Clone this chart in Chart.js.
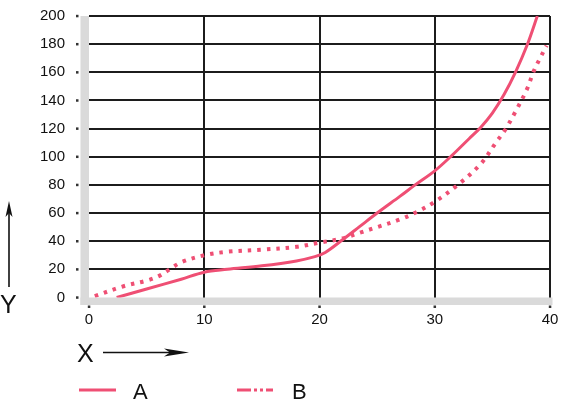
<!DOCTYPE html>
<html>
<head>
<meta charset="utf-8">
<script src="https://cdn.jsdelivr.net/npm/chart.js@4.4.1/dist/chart.umd.min.js"></script>
<style>
  html, body { margin: 0; padding: 0; background: #fff; }
  #wrap { width: 570px; height: 414px; position: relative; }
</style>
</head>
<body>
<div id="wrap"><canvas id="curveChart"></canvas></div>
<script>
// Dữ liệu
const xTicks = [0, 10, 20, 30, 40];
const yTicks = [0, 20, 40, 60, 80, 100, 120, 140, 160, 180, 200];

const xA = [2.4, 5, 8, 10, 12, 15, 18, 19.6, 20.5, 22, 23.5, 25, 27, 28.3, 30, 31.5, 33, 34, 35, 36, 37, 38, 38.9];
const yA = [0, 6, 13, 18, 20, 22.5, 26, 29, 32, 41, 50.5, 60, 72, 80, 90, 101, 113, 121, 131, 144, 160, 179, 200];

const xB = [0.5, 3, 5, 6, 7, 8, 10, 12, 15, 18, 20, 22, 23.5, 25, 27, 28.5, 30, 32, 34, 35.3, 36.1, 37, 38, 38.6, 39.2, 39.7];
const yB = [1, 8, 12, 15, 20, 25, 30, 32.5, 34, 36, 39, 42, 46, 50, 55.5, 61, 68, 80, 95, 110, 119, 132, 148, 161, 171, 179];

const seriesNames = ['A', 'B'];
const pink = '#ef4f74';

function toPoints(xs, ys) {
    return xs.map((x, i) => ({ x: x, y: ys[i] }));
}

// Vẽ dải xám, chấm tick, nhãn trục và chú thích
const decorPlugin = {
    id: 'decor',
    beforeDatasetsDraw(chart) {
        const ctx = chart.ctx;
        const a = chart.chartArea;
        const xs = chart.scales.x;
        const ys = chart.scales.y;
        ctx.save();
        ctx.fillStyle = '#dadada';
        ctx.fillRect(a.left - 8.5, a.top, 8.5, a.bottom - a.top + 7.5);
        ctx.fillRect(a.left - 8.5, a.bottom, a.right - a.left + 11, 7.5);
        ctx.fillStyle = '#333';
        yTicks.forEach(v => {
            const py = ys.getPixelForValue(v);
            ctx.fillRect(a.left - 13, py - 1.2, 2.5, 2.5);
        });
        xTicks.forEach(v => {
            const px = xs.getPixelForValue(v);
            ctx.fillRect(px - 1.2, a.bottom + 8, 2.5, 2.5);
        });
        ctx.restore();
    },
    afterDraw(chart) {
        const ctx = chart.ctx;
        ctx.save();
        ctx.fillStyle = '#111';
        ctx.strokeStyle = '#111';
        ctx.textBaseline = 'alphabetic';

        // Nhãn X và mũi tên
        ctx.font = '25px "Liberation Sans", Arial, sans-serif';
        ctx.fillText('X', 77, 362);
        ctx.lineWidth = 1.6;
        ctx.beginPath();
        ctx.moveTo(103, 352.5);
        ctx.lineTo(178, 352.5);
        ctx.stroke();
        ctx.beginPath();
        ctx.moveTo(189, 352.5);
        ctx.lineTo(164, 348.5);
        ctx.lineTo(170, 352.5);
        ctx.lineTo(164, 356.5);
        ctx.closePath();
        ctx.fill();

        // Nhãn Y và mũi tên
        ctx.fillText('Y', 0, 313);
        ctx.beginPath();
        ctx.moveTo(9, 287);
        ctx.lineTo(9, 212);
        ctx.stroke();
        ctx.beginPath();
        ctx.moveTo(9, 201);
        ctx.lineTo(5.5, 217);
        ctx.lineTo(9, 213);
        ctx.lineTo(12.5, 217);
        ctx.closePath();
        ctx.fill();

        // Chú thích
        ctx.font = '22px "Liberation Sans", Arial, sans-serif';
        ctx.strokeStyle = pink;
        ctx.lineWidth = 3;
        ctx.beginPath();
        ctx.moveTo(79, 390);
        ctx.lineTo(116, 390);
        ctx.stroke();
        ctx.fillText(seriesNames[0], 133, 399);

        ctx.setLineDash([14, 3, 3, 3, 3, 3, 8, 0]);
        ctx.beginPath();
        ctx.moveTo(237, 390);
        ctx.lineTo(273, 390);
        ctx.stroke();
        ctx.setLineDash([]);
        ctx.fillText(seriesNames[1], 292, 399);
        ctx.restore();
    }
};

const ctx = document.getElementById('curveChart').getContext('2d');
const curveChart = new Chart(ctx, {
    type: 'line',
    data: {
        datasets: [{
            label: seriesNames[0],
            data: toPoints(xA, yA),
            borderColor: pink,
            borderWidth: 3,
            pointRadius: 0,
            tension: 0.35,
            fill: false,
        }, {
            label: seriesNames[1],
            data: toPoints(xB, yB),
            borderColor: pink,
            borderWidth: 4,
            borderDash: [3.5, 6],
            pointRadius: 0,
            tension: 0.35,
            fill: false,
        }],
    },
    options: {
        responsive: true,
        maintainAspectRatio: false,
        animation: false,
        layout: {
            padding: { top: 16, right: 20, left: 0, bottom: 0 }
        },
        plugins: {
            legend: { display: false },
            tooltip: { enabled: false },
        },
        scales: {
            x: {
                type: 'linear',
                min: 0,
                max: 40,
                afterBuildTicks: function (scale) {
                    scale.ticks = xTicks.map(v => ({ value: v }));
                },
                afterFit: function (scale) {
                    scale.height = 116.5;
                    scale.paddingLeft = 0;
                    scale.paddingRight = 0;
                },
                border: { display: false },
                grid: {
                    drawTicks: false,
                    lineWidth: 2,
                    color: function (c) {
                        return c.tick && c.tick.value === 0 ? 'rgba(0,0,0,0)' : '#1c1c1c';
                    },
                },
                ticks: {
                    padding: 13,
                    color: '#111',
                    font: { family: '"Liberation Sans", Arial, sans-serif', size: 15 },
                },
            },
            y: {
                type: 'linear',
                min: 0,
                max: 200,
                afterBuildTicks: function (scale) {
                    scale.ticks = yTicks.map(v => ({ value: v }));
                },
                afterFit: function (scale) {
                    scale.width = 89;
                    scale.paddingTop = 0;
                    scale.paddingBottom = 0;
                },
                border: { display: false },
                grid: {
                    drawTicks: false,
                    lineWidth: 2,
                    color: function (c) {
                        return c.tick && c.tick.value === 0 ? 'rgba(0,0,0,0)' : '#1c1c1c';
                    },
                },
                ticks: {
                    padding: 24,
                    color: '#111',
                    font: { family: '"Liberation Sans", Arial, sans-serif', size: 15 },
                },
            },
        },
    },
    plugins: [decorPlugin],
});
</script>
</body>
</html>
